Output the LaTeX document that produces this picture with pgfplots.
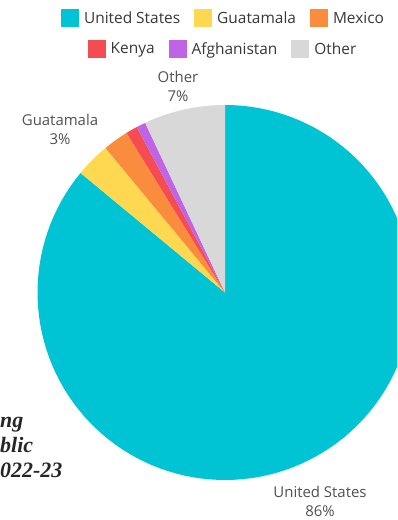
\documentclass[border=0pt]{standalone}
\usepackage{pgfplots}
\pgfplotsset{compat=1.18}
\usepackage{fontspec}
\setmainfont{Open Sans}
\newfontfamily\titlefont{Liberation Serif}
\definecolor{cUS}{RGB}{0,196,212}
\definecolor{cGu}{RGB}{253,216,80}
\definecolor{cMx}{RGB}{250,140,62}
\definecolor{cKe}{RGB}{245,76,82}
\definecolor{cAf}{RGB}{192,100,230}
\definecolor{cOt}{RGB}{216,216,216}
\definecolor{legtext}{RGB}{55,55,55}
\definecolor{labtext}{RGB}{80,80,80}

\gdef\cum{0}
\newcommand\piewedge[3]{%
  \pgfmathsetmacro\wa{\cum*3.6}%
  \pgfmathsetmacro\wb{(\cum+#1)*3.6}%
  \edef\temp{\noexpand\addplot[fill=#2, draw=none, #3, domain=\wa:\wb, samples=120] ({225+187.5*sin(x)},{292.5-187.5*cos(x)}) -- (axis cs:225,292.5) -- cycle;}%
  \temp
  \pgfmathsetmacro\newcum{\cum+#1}%
  \global\let\cum\newcum
}

\pgfplotsset{
  pieframe/.style={
    scale only axis, width=397bp, height=520bp,
    xmin=0, xmax=397, ymin=0, ymax=520, y dir=reverse,
    hide axis, clip=true,
    legend columns=-1,
    legend image code/.code={\fill[##1] (0bp,-9bp) rectangle (18bp,9bp);},
    legend style={draw=none, fill=none, anchor=center,
      font=\fontsize{15.5}{18}\selectfont, text=legtext,
      /tikz/every odd column/.append style={column sep=3bp},
      /tikz/every even column/.append style={column sep=12bp}},
  }
}

\begin{document}
\begin{tikzpicture}
\begin{axis}[pieframe, name=ax, legend style={at={(axis cs:223.5,18.5)}}]
\piewedge{86}{cUS}{}
\addlegendentry{United States}
\piewedge{3}{cGu}{}
\addlegendentry{Guatamala}
\piewedge{2.2}{cMx}{}
\addlegendentry{Mexico}
\piewedge{1}{cKe}{forget plot}
\piewedge{0.8}{cAf}{forget plot}
\piewedge{7}{cOt}{forget plot}

\node[align=center, font=\fontsize{15}{19}\selectfont, text=labtext] at (axis cs:178,86) {Other\\7\%};
\node[align=center, font=\fontsize{15}{19}\selectfont, text=labtext] at (axis cs:60,129) {Guatamala\\3\%};
\node[align=center, font=\fontsize{15}{19}\selectfont, text=labtext] at (axis cs:320,501) {United States\\86\%};

\node[anchor=base west, inner sep=0, font=\titlefont\bfseries\itshape\fontsize{22}{25}\selectfont, text=black!85] at (axis cs:0,427) {ng};
\node[anchor=base west, inner sep=0, font=\titlefont\bfseries\itshape\fontsize{22}{25}\selectfont, text=black!85] at (axis cs:0,452) {blic};
\node[anchor=base west, inner sep=0, font=\titlefont\bfseries\itshape\fontsize{22}{25}\selectfont, text=black!85] at (axis cs:0,477) {022-23};
\end{axis}
\begin{axis}[pieframe, legend style={at={(axis cs:223,49)}}]
\addlegendimage{fill=cKe, draw=none}
\addlegendentry{Kenya}
\addlegendimage{fill=cAf, draw=none}
\addlegendentry{Afghanistan}
\addlegendimage{fill=cOt, draw=none}
\addlegendentry{Other}
\end{axis}
\pgfresetboundingbox
\path[use as bounding box] (ax.south west) rectangle (ax.north east);
\end{tikzpicture}
\end{document}
